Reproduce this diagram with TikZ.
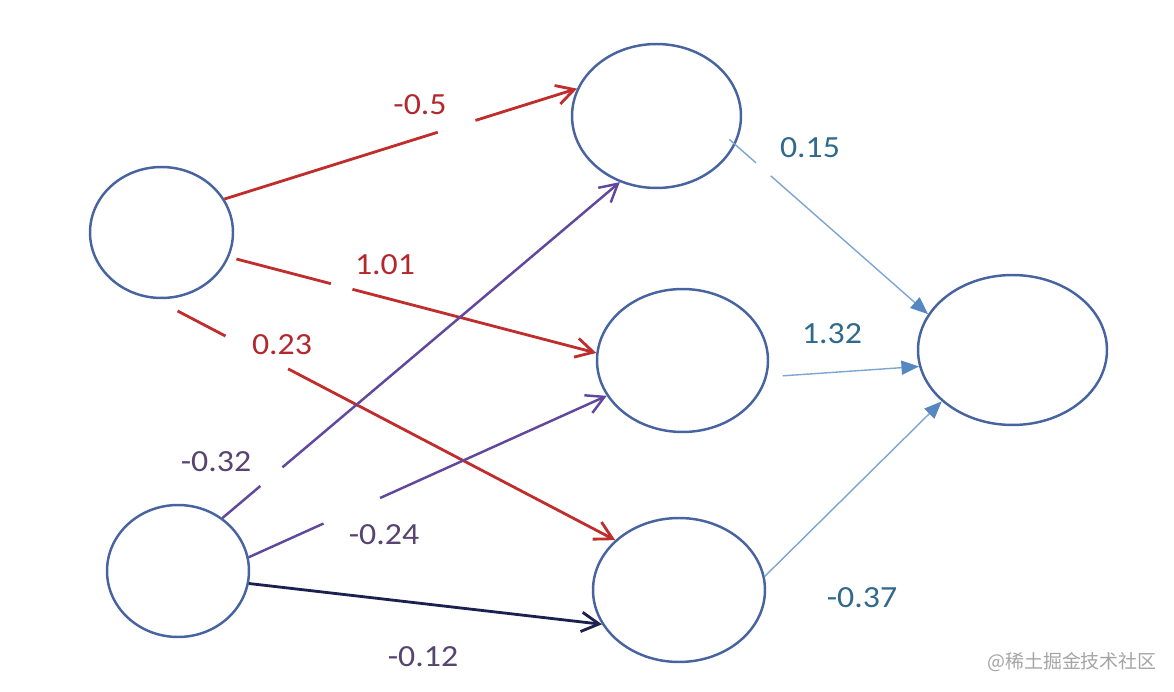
\documentclass[tikz,border=0pt]{standalone}
\usepackage{fontspec}
\setmainfont{Carlito}
\newfontfamily\lblfont[FakeStretch=1.1]{Carlito}
\newfontfamily\cjkfont{Noto Sans CJK SC}
\usetikzlibrary{arrows.meta,calc,shapes.geometric}
\definecolor{nodeblue}{RGB}{72,100,160}
\definecolor{lred}{RGB}{192,45,45}
\definecolor{lpurple}{RGB}{98,72,156}
\definecolor{lnavy}{RGB}{28,32,78}
\definecolor{lblue}{RGB}{125,165,210}
\definecolor{tipblue}{RGB}{85,135,195}
\definecolor{redlbl}{RGB}{178,40,45}
\definecolor{purlbl}{RGB}{88,68,112}
\definecolor{bluelbl}{RGB}{48,105,140}
\definecolor{wmgray}{RGB}{165,165,165}
\begin{document}
\begin{tikzpicture}[x=0.02cm,y=-0.02cm,
  neuron/.style={ellipse, draw=nodeblue, line width=1.4pt, inner sep=0pt},
  redl/.style={draw=lred, line width=1.6pt},
  purl/.style={draw=lpurple, line width=1.4pt},
  navl/.style={draw=lnavy, line width=1.6pt},
  bluel/.style={draw=lblue, line width=0.8pt},
  tipo/.style={-{Straight Barb[length=10pt,width=11pt]}},
  tipb/.style={-{Triangle[length=10pt,width=8pt,color=tipblue]}},
  wl/.style={font=\lblfont\fontsize{17.5pt}{20pt}\selectfont, inner sep=0pt},
]
\useasboundingbox[fill=white] (0,0) rectangle (1174,692);

% neurons
\node[neuron, minimum width=2.86cm, minimum height=2.62cm] (I1) at (161.5,232.5) {};
\node[neuron, minimum width=2.84cm, minimum height=2.64cm] (I2) at (178,571) {};
\node[neuron, minimum width=3.38cm, minimum height=2.88cm] (H1) at (656.5,116) {};
\node[neuron, minimum width=3.42cm, minimum height=2.86cm] (H2) at (682.5,360.5) {};
\node[neuron, minimum width=3.44cm, minimum height=2.88cm] (H3) at (679,590) {};
\node[neuron, minimum width=3.78cm, minimum height=3.00cm] (O) at (1012.5,350) {};

% I1 -> H1 (-0.5)
\draw[redl] (I1.28) -- ($(I1.28)!0.605!(H1.161)$);
\draw[redl,tipo] ($(I1.28)!0.712!(H1.161)$) -- (H1.161);
% I1 -> H2 (1.01)
\draw[redl] ($(I1.-20)!0.02!(H2.175)$) -- ($(I1.-20)!0.277!(H2.175)$);
\draw[redl,tipo] ($(I1.-20)!0.336!(H2.175)$) -- (H2.175);
% I1 -> H3 (0.23)
\draw[redl] ($(I1.-96)!0.05!(H3.142)$) -- ($(I1.-96)!0.154!(H3.142)$);
\draw[redl,tipo] ($(I1.-96)!0.29!(H3.142)$) -- (H3.142);
% I2 -> H1 (-0.32)
\draw[purl] (I2.50) -- ($(I2.50)!0.0955!(H1.241)$);
\draw[purl,tipo] ($(I2.50)!0.151!(H1.241)$) -- (H1.241);
% I2 -> H2 (-0.24)
\draw[purl] (I2.11) -- ($(I2.11)!0.209!(H2.205)$);
\draw[purl,tipo] ($(I2.11)!0.367!(H2.205)$) -- (H2.205);
% I2 -> H3 (-0.12)
\draw[navl,tipo] (I2.-10) -- (H3.204);
% H1 -> O (0.15)
\draw[bluel] ($(H1.-20)!-0.031!(O.157)$) -- ($(H1.-20)!0.107!(O.157)$);
\draw[bluel,tipb] ($(H1.-20)!0.184!(O.157)$) -- (O.157);
% H2 -> O (1.32)
\draw[bluel,tipb,shorten <=9pt] (H2.-11) -- (O.190);
% H3 -> O (-0.37)
\draw[bluel,tipb] (H3.9) -- (O.216);

% weights
\node[wl,text=redlbl] (w1) at (420,105) {-0.5};
\node[wl,text=redlbl] (w2) at (385,265) {1.01};
\node[wl,text=redlbl] (w3) at (282,345) {0.23};
\node[wl,text=purlbl] (w4) at (216,462) {-0.32};
\node[wl,text=purlbl] (w5) at (384,535) {-0.24};
\node[wl,text=purlbl] (w6) at (423,657) {-0.12};
\node[wl,text=bluelbl] (w7) at (810,148) {0.15};
\node[wl,text=bluelbl] (w8) at (832,334) {1.32};
\node[wl,text=bluelbl] (w9) at (862,598) {-0.37};

\node[text=wmgray, font=\cjkfont\fontsize{10.8pt}{12pt}\selectfont, inner sep=0pt] (wm) at (1072,662) {@稀土掘金技术社区};
\end{tikzpicture}
\end{document}
